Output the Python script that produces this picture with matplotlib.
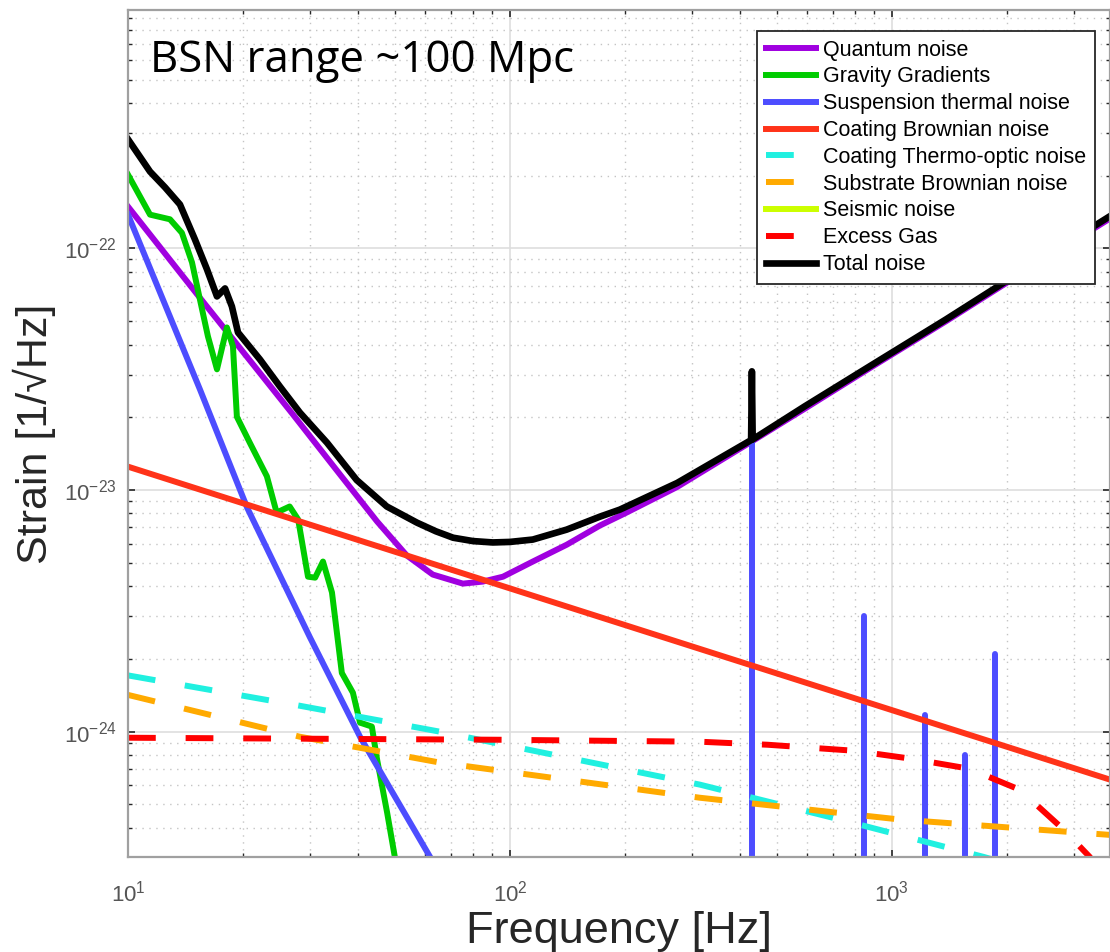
import matplotlib
matplotlib.use("Agg")
import matplotlib.pyplot as plt
from matplotlib.ticker import FixedLocator, LogLocator, NullFormatter

# values (frequency in Hz, strain in 1/sqrt(Hz))
freq_quantum = [10, 15.4, 27.0, 35.9, 44.9, 53.7, 62.8, 75.3, 84.9, 95.9,
                114.8, 140.8, 172, 202, 274, 430, 591, 907, 1384, 2023, 3724]
quantum = [1.49e-22, 6.27e-23, 2.06e-23, 1.16e-23, 7.41e-24, 5.36e-24,
           4.47e-24, 4.10e-24, 4.18e-24, 4.38e-24, 5.06e-24, 5.94e-24,
           7.13e-24, 8.07e-24, 1.03e-23, 1.59e-23, 2.17e-23, 3.31e-23,
           4.99e-23, 7.30e-23, 1.33e-22]

freq_gravity = [10, 11.42, 12.88, 13.84, 14.71, 15.43, 16.19, 17.10, 18.15,
                18.83, 19.28, 20.84, 23.1, 24.5, 26.5, 27.9, 29.6, 30.9, 32.4,
                34.2, 36.3, 38.8, 40.5, 43.5, 44.9, 47.7, 50.0, 51.5]
gravity = [2.02e-22, 1.38e-22, 1.32e-22, 1.16e-22, 8.75e-23, 6.15e-23,
           4.33e-23, 3.16e-23, 4.71e-23, 3.93e-23, 2.01e-23, 1.57e-23,
           1.14e-23, 8.07e-24, 8.55e-24, 7.55e-24, 4.38e-24, 4.34e-24,
           5.06e-24, 3.77e-24, 1.75e-24, 1.45e-24, 1.09e-24, 1.05e-24,
           7.66e-25, 4.62e-25, 3.01e-25, 2.44e-25]

freq_suspension = [10, 15.43, 20.5, 29.9, 40.5, 61.8, 65.6]
suspension = [1.38e-22, 2.61e-23, 8.47e-24, 2.47e-24, 9.53e-25, 3.03e-25,
              2.56e-25]

# violin mode peaks of the suspension thermal noise
violin_freq = [430, 845, 1219, 1553, 1862]
violin_peak = [1.62e-23, 3.02e-24, 1.17e-24, 8.04e-25, 2.09e-24]
violin_floor = 1e-26

freq_coating = [10, 10000]
coating_brownian = [1.25e-23, 3.85e-25]

freq_thermo = [10, 28.2, 65.6, 314, 731, 1742, 1918]
thermo_optic = [1.71e-24, 1.28e-24, 1.00e-24, 6.04e-25, 4.33e-25, 3.03e-25,
                2.90e-25]

freq_substrate = [10, 28.2, 65.6, 314, 1050, 3724]
substrate = [1.42e-24, 9.53e-25, 7.45e-25, 5.33e-25, 4.33e-25, 3.74e-25]

# seismic noise lies below the plotted range
freq_seismic = []
seismic = []

freq_gas = [10, 94.2, 314, 473, 796, 1122, 1591, 2163, 2804, 3297, 3506]
excess_gas = [9.44e-25, 9.26e-25, 9.09e-25, 8.83e-25, 8.34e-25, 7.73e-25,
              7.03e-25, 5.75e-25, 3.96e-25, 3.03e-25, 2.56e-25]

freq_total = [10, 11.42, 12.5, 13.68, 14.97, 16.1, 17.1, 17.95, 18.71, 19.41,
              22.16, 25.0, 28.2, 33.2, 39.7, 47.6, 57.1, 64.0, 71.0, 80.0,
              90.2, 100.0, 114.8, 140.8, 172, 194, 274, 428, 430, 432, 591,
              907, 1384, 2023, 3724]
total = [2.83e-22, 2.08e-22, 1.79e-22, 1.52e-22, 1.09e-22, 8.19e-23,
         6.33e-23, 6.83e-23, 5.75e-23, 4.49e-23, 3.47e-23, 2.68e-23,
         2.09e-23, 1.57e-23, 1.10e-23, 8.55e-24, 7.33e-24, 6.75e-24,
         6.35e-24, 6.15e-24, 6.07e-24, 6.10e-24, 6.24e-24, 6.86e-24,
         7.76e-24, 8.30e-24, 1.07e-23, 1.61e-23, 3.10e-23, 1.62e-23,
         2.22e-23, 3.37e-23, 5.08e-23, 7.44e-23, 1.36e-22]

x_ticks = [10, 100, 1000]
y_ticks = [1e-24, 1e-23, 1e-22]


def main():
    plt.rcParams["font.family"] = ["Liberation Sans", "DejaVu Sans"]
    plt.rcParams["lines.scale_dashes"] = False

    fig = plt.figure(figsize=(11.1, 9.52), dpi=100)
    ax = fig.add_axes([0.1153, 0.0998, 0.8847, 0.8897])

    lw = 4.3
    dash = (20, 21.5)
    ax.plot(freq_quantum, quantum, color="#a000e0", lw=lw, label="Quantum noise")
    ax.plot(freq_gravity, gravity, color="#00cc00", lw=lw, label="Gravity Gradients")
    ax.plot(freq_suspension, suspension, color="#4d4dff", lw=lw,
            label="Suspension thermal noise")
    for f, p in zip(violin_freq, violin_peak):
        ax.plot([f, f], [violin_floor, p], color="#4d4dff", lw=lw,
                solid_capstyle="round")
    ax.plot(freq_coating, coating_brownian, color="#ff3319", lw=lw,
            label="Coating Brownian noise")
    ax.plot(freq_thermo, thermo_optic, color="#20f0e0", lw=lw, dashes=dash,
            label="Coating Thermo-optic noise")
    ax.plot(freq_substrate, substrate, color="#ffaa00", lw=lw, dashes=dash,
            label="Substrate Brownian noise")
    ax.plot(freq_seismic, seismic, color="#ccff00", lw=lw, label="Seismic noise")
    ax.plot(freq_gas, excess_gas, color="#ff0000", lw=lw, dashes=dash,
            label="Excess Gas")
    ax.plot(freq_total, total, color="black", lw=4.8, label="Total noise")

    ax.set_xscale("log")
    ax.set_yscale("log")
    ax.set_xlim(10, 3724)
    ax.set_ylim(3.03e-25, 9.7e-22)

    ax.xaxis.set_major_locator(FixedLocator(x_ticks))
    ax.yaxis.set_major_locator(FixedLocator(y_ticks))
    ax.xaxis.set_minor_locator(LogLocator(base=10, subs=range(2, 10)))
    ax.yaxis.set_minor_locator(LogLocator(base=10, subs=range(2, 10)))
    ax.xaxis.set_minor_formatter(NullFormatter())
    ax.yaxis.set_minor_formatter(NullFormatter())

    ax.grid(True, which="major", color="#dedede", lw=1.2, ls="-")
    ax.grid(True, which="minor", color="#c4c4c4", lw=1.0, ls=(0, (1, 4)))
    ax.set_axisbelow(True)
    for s in ax.spines.values():
        s.set_color("#a0a0a0")
        s.set_linewidth(1.6)
    ax.tick_params(which="both", direction="in", top=True, right=True,
                   colors="#262626", labelcolor="#555555", labelsize=16)
    ax.tick_params(which="major", length=5, width=1.2)
    ax.tick_params(which="minor", length=3, width=1.0)
    ax.tick_params(axis="x", pad=17)
    ax.tick_params(axis="y", pad=8)

    ax.set_xlabel("Frequency [Hz]", fontsize=32.5, color="#262626")
    ax.set_ylabel("Strain [1/\u221aHz]", fontsize=31, color="#262626")
    ax.xaxis.set_label_coords(0.5, -0.064)
    ax.yaxis.set_label_coords(-0.073, 0.5)

    fig.text(150 / 1110, 1 - 72 / 952, "BSN range ~100 Mpc", fontsize=31.5,
             family=["Open Sans", "DejaVu Sans"], va="baseline", ha="left")

    leg = ax.legend(loc="upper right",
                    bbox_to_anchor=(1095 / 1110, 1 - 31 / 952),
                    bbox_transform=fig.transFigure, borderaxespad=0,
                    fontsize=15.5, frameon=True, fancybox=False, framealpha=1,
                    handlelength=2.35, handletextpad=0.33, labelspacing=0.27,
                    borderpad=0.4)
    leg.get_frame().set_edgecolor("#262626")
    leg.get_frame().set_linewidth(1.3)

    fig.savefig("out.png", dpi=100)


if __name__ == "__main__":
    main()
